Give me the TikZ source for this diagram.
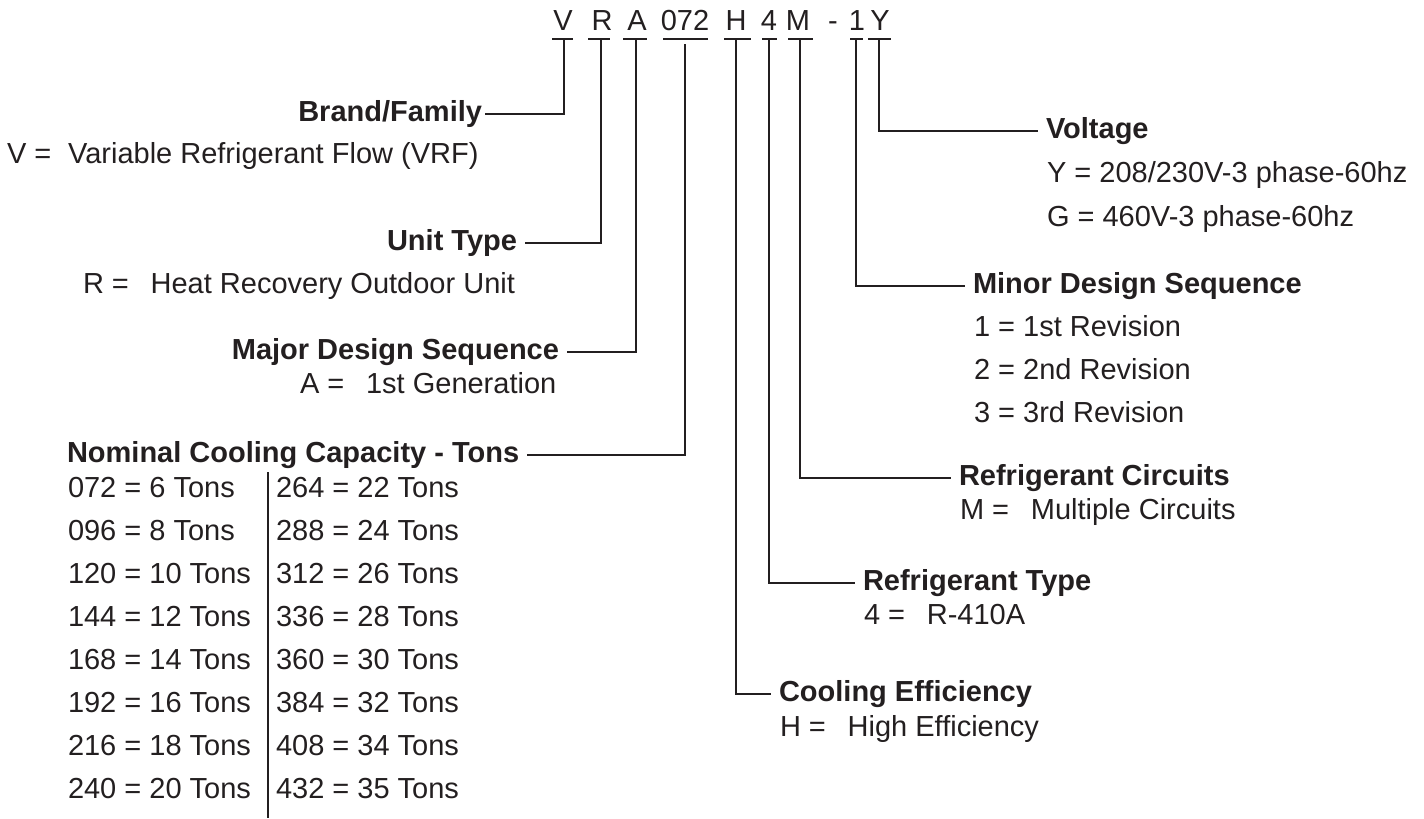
\documentclass[tikz,border=0pt]{standalone}
\usepackage{fontspec}
\setmainfont{Liberation Sans}
\definecolor{ink}{RGB}{35,31,32}
\newcommand{\eqgap}{\hspace{0.75em}}
\tikzset{%
    every node/.style={inner sep=0pt, text height=0.72em, text depth=0pt,
    	font=\fontsize{14.5}{17}\selectfont},
    head/.style={font=\fontsize{14.5}{17}\selectfont\bfseries, outer xsep=4pt}
}

\begin{document}
\begin{tikzpicture}[x=0.5pt, y=-0.5pt, line width=1pt, color=ink]
  \useasboundingbox (0, 0) rectangle (1424, 819);

  % model number
  \foreach \ch/\xc [count=\i] in {V/563, R/602, A/637, 072/685, H/736,
      4/769, M/798, -/833, 1/857, Y/880}
    \node (m\i) [anchor=base] at (\xc, 30) {\ch};
  \foreach \a/\b in {552/573, 588/610, 623/647, 663/708, 724/751,
      762/777, 788/813, 850/863, 868/891}
    \draw (\a, 39) -- (\b, 39);

  \coordinate (uV) at (564, 39);
  \coordinate (uR) at (601, 39);
  \coordinate (uA) at (636, 39);
  \coordinate (u072) at (685, 44);
  \coordinate (uH) at (736, 39);
  \coordinate (u4) at (769, 39);
  \coordinate (uM) at (800, 39);
  \coordinate (u1) at (856, 39);
  \coordinate (uY) at (879, 39);

  % left side
  \node (brand) [head, anchor=base east, outer xsep=1.5pt] at (485, 121) {Brand/Family};
  \node (brandV) [anchor=base west] at (6, 163) {V =\hspace{0.3em} Variable Refrigerant Flow (VRF)};
  \node (unit) [head, anchor=base east] at (525, 250) {Unit Type};
  \node (unitR) [anchor=base west] at (82, 293) {R =\eqgap Heat Recovery Outdoor Unit};
  \node (major) [head, anchor=base east] at (567, 359) {Major Design Sequence};
  \node (majorA) [anchor=base west] at (299, 393) {A =\eqgap 1st Generation};
  \node (nominal) [head, anchor=base west] at (59, 462) {Nominal Cooling Capacity - Tons};

  \foreach \val/\tons [count=\i] in {072/6, 096/8, 120/10, 144/12,
      168/14, 192/16, 216/18, 240/20}
    \node (capL\i) [anchor=base west] at (67, 454+43*\i) {\val{} = \tons{} Tons};
  \foreach \val/\tons [count=\i] in {264/22, 288/24, 312/26, 336/28,
      360/30, 384/32, 408/34, 432/35}
    \node (capR\i) [anchor=base west] at (275, 454+43*\i) {\val{} = \tons{} Tons};
  \draw (268, 472) -- (268, 818);

  % right side
  \node (voltage) [head, anchor=base west] at (1038, 138) {Voltage};
  \node (voltY) [anchor=base west] at (1046, 182) {Y = 208/230V-3 phase-60hz};
  \node (voltG) [anchor=base west] at (1046, 226) {G = 460V-3 phase-60hz};
  \node (minor) [head, anchor=base west] at (965, 293) {Minor Design Sequence};
  \node (minor1) [anchor=base west] at (973, 336) {1 = 1st Revision};
  \node (minor2) [anchor=base west] at (973, 379) {2 = 2nd Revision};
  \node (minor3) [anchor=base west] at (973, 422) {3 = 3rd Revision};
  \node (circuits) [head, anchor=base west] at (951, 485) {Refrigerant Circuits};
  \node (circuitsM) [anchor=base west] at (959, 519) {M =\eqgap Multiple Circuits};
  \node (rtype) [head, anchor=base west] at (855, 590) {Refrigerant Type};
  \node (rtype4) [anchor=base west] at (863, 624) {4 =\eqgap R-410A};
  \node (cooling) [head, anchor=base west] at (771, 701) {Cooling Efficiency};
  \node (coolingH) [anchor=base west] at (779, 736) {H =\eqgap High Efficiency};

  \draw (uV) |- (brand.east);
  \draw (uR) |- (unit.east);
  \draw (uA) |- (major.east);
  \draw (u072) |- (nominal.east);
  \draw (uH) |- (cooling.west);
  \draw (u4) |- (rtype.west);
  \draw (uM) |- (circuits.west);
  \draw (u1) |- (minor.west);
  \draw (uY) |- (voltage.west);
\end{tikzpicture}
\end{document}
